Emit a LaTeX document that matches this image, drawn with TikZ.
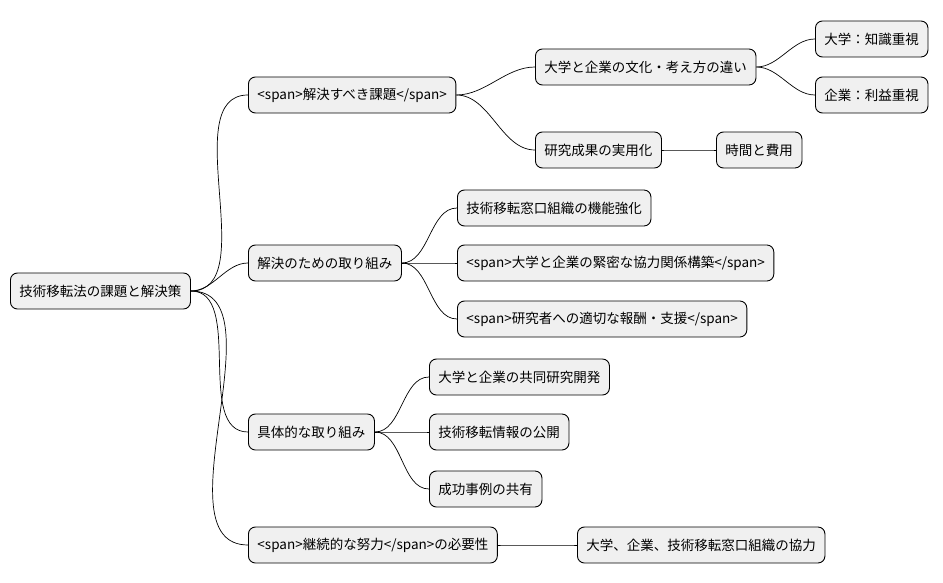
\documentclass[tikz,border=0pt]{standalone}
\usepackage{fontspec}
\newfontfamily\jpfont{Noto Sans CJK JP}
\begin{document}
\begin{tikzpicture}[x=1pt,y=-1pt,
 box/.style={draw=black,line width=0.9pt,fill=black!6,rounded corners=7pt,minimum height=36pt,inner xsep=9pt,anchor=west,font=\jpfont\fontsize{13.5}{16}\selectfont},
 ed/.style={line width=0.7pt,out=0,in=180,looseness=0.9}]
\useasboundingbox (0,0) rectangle (943,583);
\node[box] (r) at (10,291) {技術移転法の課題と解決策};
\node[box] (a) at (248,95) {<span>解決すべき課題</span>};
\node[box] (a1) at (535,67) {大学と企業の文化・考え方の違い};
\node[box] (a1a) at (815,39) {大学：知識重視};
\node[box] (a1b) at (815,95) {企業：利益重視};
\node[box] (a2) at (535,150) {研究成果の実用化};
\node[box] (a2a) at (716,150) {時間と費用};
\node[box] (b) at (248,263) {解決のための取り組み};
\node[box] (b1) at (457,208) {技術移転窓口組織の機能強化};
\node[box] (b2) at (457,263) {<span>大学と企業の緊密な協力関係構築</span>};
\node[box] (b3) at (457,319) {<span>研究者への適切な報酬・支援</span>};
\node[box] (c) at (248,432) {具体的な取り組み};
\node[box] (c1) at (429,377) {大学と企業の共同研究開発};
\node[box] (c2) at (429,432) {技術移転情報の公開};
\node[box] (c3) at (429,489) {成功事例の共有};
\node[box] (d) at (248,545) {<span>継続的な努力</span>の必要性};
\node[box] (d1) at (577,545) {大学、企業、技術移転窓口組織の協力};
\foreach \p/\c in {r/a,r/b,r/c,r/d,a/a1,a/a2,a1/a1a,a1/a1b,a2/a2a,b/b1,b/b2,b/b3,c/c1,c/c2,c/c3,d/d1}
 \draw[ed] (\p.east) to (\c.west);
\end{tikzpicture}
\end{document}
